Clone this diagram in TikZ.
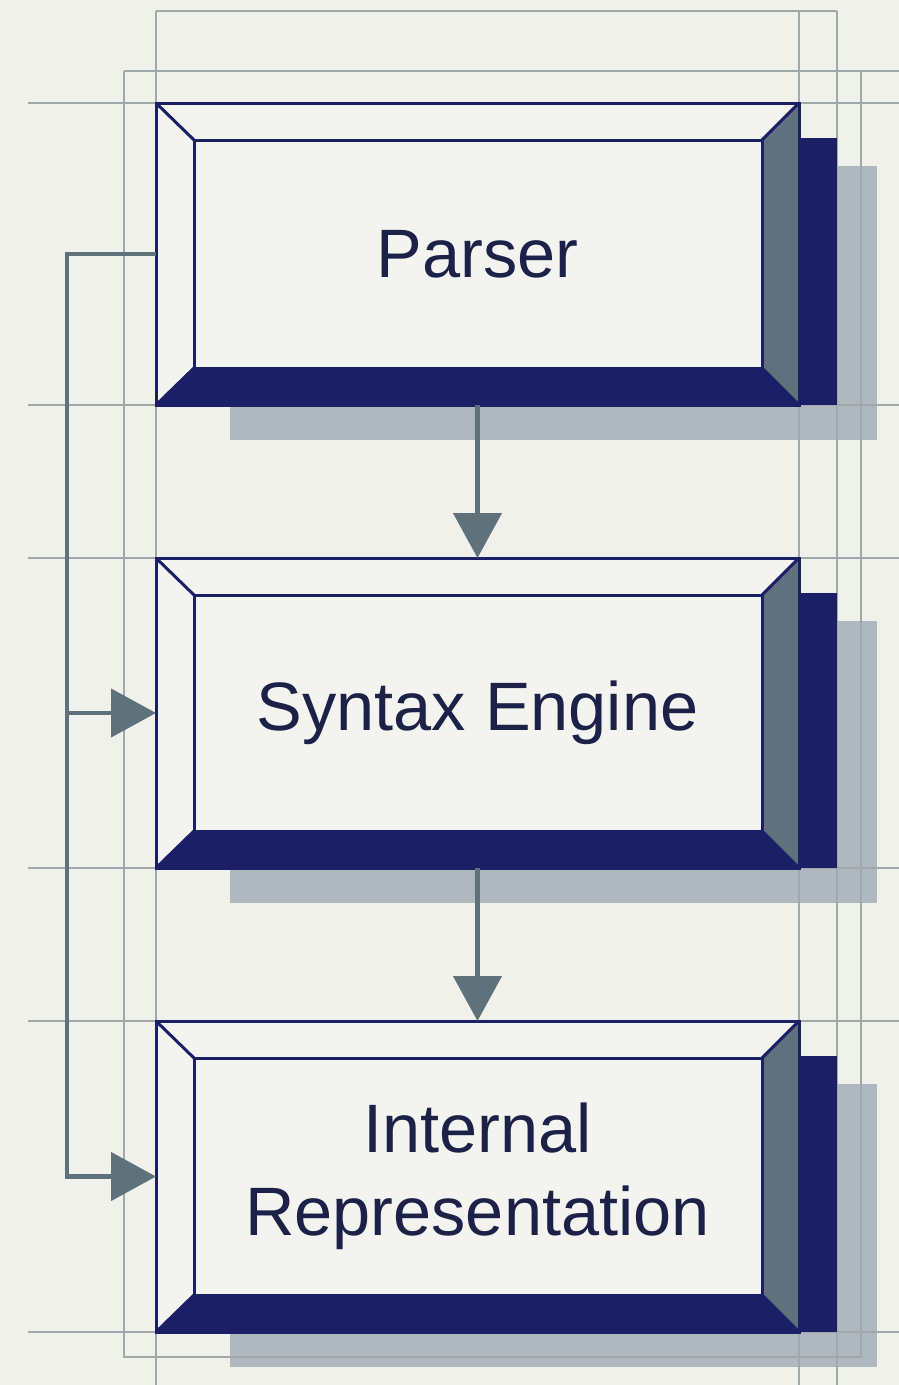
\documentclass[tikz,border=0pt]{standalone}
\usepackage{fontspec}
\setmainfont{Liberation Sans}
\usetikzlibrary{arrows.meta,calc}
\definecolor{bgc}{HTML}{F1F1EC}
\definecolor{facec}{HTML}{F3F3EF}
\definecolor{navyc}{HTML}{1B2066}
\definecolor{txtc}{HTML}{1C2148}
\definecolor{slatec}{HTML}{5F717D}
\definecolor{shadec}{HTML}{B0B8BF}
\definecolor{connc}{HTML}{5F717A}
\definecolor{guidec}{HTML}{A0A8AA}
\pgfdeclarelayer{paperlayer}
\pgfdeclarelayer{shadowlayer}
\pgfdeclarelayer{guidelayer}
\pgfdeclarelayer{boxlayer}
\pgfsetlayers{paperlayer,shadowlayer,guidelayer,boxlayer,main}
\tikzset{
  guideline/.style={draw=guidec, line width=1.3pt},
  boxnode/.style={minimum width=643pt, minimum height=#1, inner sep=0pt, outer sep=0pt,
    align=center, text=txtc, font=\fontsize{68.5pt}{83pt}\selectfont},
  connector/.style={draw=connc, line width=4.5pt, line join=miter,
    -{Triangle[length=45pt,width=48pt]}},
  edgeline/.style={draw=navyc, line width=3pt, line join=miter},
}
\begin{document}
\begin{tikzpicture}[x=1pt,y=-1pt]
\useasboundingbox (0,0) rectangle (899,1385);
\begin{pgfonlayer}{paperlayer}
\fill[bgc] (0,0) rectangle (899,1385);
\end{pgfonlayer}

\node[boxnode=302pt] (parser) at (477.5,254) {Parser};
\node[boxnode=310pt] (syntax) at (477.5,713) {Syntax Engine};
\node[boxnode=311pt] (internal) at (477.5,1176.5) {Internal\\Representation};

% guides
\begin{pgfonlayer}{guidelayer}
\draw[guideline] (156,11) -- (837,11);
\draw[guideline] (124,71) -- (899,71);
\draw[guideline] (124,71) -- (124,1357) -- (861,1357) -- (861,71);
\draw[guideline] (156,11) -- (156,1385);
\draw[guideline] (799,11) -- (799,1385);
\draw[guideline] (837,11) -- (837,1385);
\foreach \yy in {103,405,558,868,1021,1332}
  \draw[guideline] (28,\yy) -- (899,\yy);
\end{pgfonlayer}

\foreach \n in {parser,syntax,internal}{
  \begin{pgfonlayer}{shadowlayer}
    \fill[shadec] ($(\n.north west)+(74,63)$) rectangle ($(\n.south east)+(78,35)$);
  \end{pgfonlayer}
  \begin{pgfonlayer}{boxlayer}
    \fill[navyc] ($(\n.north east)+(0,35)$) rectangle ($(\n.south east)+(38,0)$);
    \coordinate (A) at (\n.north west);
    \coordinate (B) at (\n.north east);
    \coordinate (C) at (\n.south east);
    \coordinate (D) at (\n.south west);
    \coordinate (a) at ($(A)+(38,37)$);
    \coordinate (b) at ($(B)+(-37,37)$);
    \coordinate (c) at ($(C)+(-37,-37)$);
    \coordinate (d) at ($(D)+(38,-37)$);
    \fill[facec] (A) -- (B) -- (C) -- (D) -- cycle;
    \fill[navyc] (D) -- (d) -- (c) -- (C) -- cycle;
    \fill[slatec] (B) -- (C) -- (c) -- (b) -- cycle;
    \draw[edgeline] (A) -- (B) -- (C) -- (D) -- cycle;
    \draw[edgeline] (a) -- (b) -- (c) -- (d) -- cycle;
    \draw[edgeline] (A) -- (a);
    \draw[edgeline] (B) -- (b);
    \draw[edgeline] (C) -- (c);
    \draw[edgeline] (D) -- (d);
  \end{pgfonlayer}
}

% connectors
\coordinate (bus) at (67,0);
\draw[connector] (parser.west) -- (bus |- parser.west) -- (bus |- internal.west) -- (internal.west);
\draw[connector] (bus |- syntax.west) -- (syntax.west);
\draw[connector] (parser.south) -- (syntax.north);
\draw[connector] (syntax.south) -- (internal.north);
\end{tikzpicture}
\end{document}
